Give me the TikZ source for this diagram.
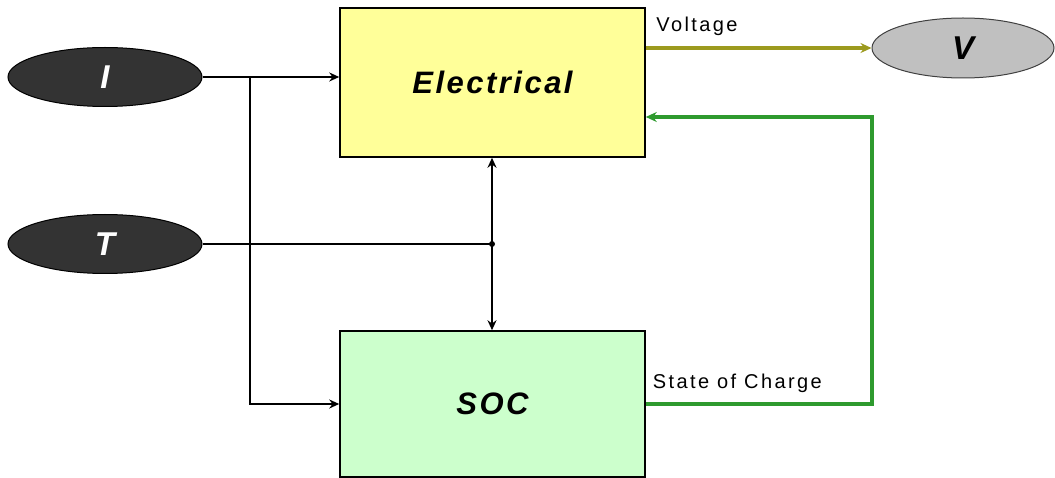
\documentclass[tikz,border=0pt]{standalone}
\usepackage{fontspec}
\setmainfont{Liberation Sans}
\usepackage{xcolor}
\usepackage{tikz}
\usetikzlibrary{arrows.meta, positioning, calc, shapes}

\definecolor{gialloblocco}{HTML}{FFFF99}
\definecolor{verdeblocco}{HTML}{CCFFCC}
\definecolor{scuro}{HTML}{333333}
\definecolor{grigio}{HTML}{C0C0C0}
\definecolor{oliva}{HTML}{9C9A1E}
\definecolor{verdelinea}{HTML}{2E9A2E}

\begin{document}
\begin{tikzpicture}[x=1pt, y=-1pt,
    ingresso/.style={ellipse, draw=black, line width=1pt, fill=scuro, text=white,
        minimum width=194pt, minimum height=59pt, inner sep=0pt,
        font=\fontsize{33}{36}\selectfont\bfseries\itshape},
    uscita/.style={ellipse, draw=black!75, line width=1pt, fill=grigio, text=black,
        minimum width=182pt, minimum height=60pt, inner sep=0pt,
        font=\fontsize{33}{36}\selectfont\bfseries\itshape},
    blocco/.style={draw=black, line width=1.5pt, minimum width=305pt, inner sep=0pt,
        font=\fontsize{31}{34}\selectfont\bfseries\itshape\addfontfeature{LetterSpace=8}},
    etichetta/.style={anchor=base west, inner sep=0pt,
        font=\fontsize{20}{22}\selectfont\addfontfeature{LetterSpace=12}},
    linea/.style={line width=2.4pt, black},
    freccia/.style={linea, -{Stealth[length=10pt, width=9pt]}},
    doppia/.style={linea, {Stealth[length=10pt, width=9pt]}-{Stealth[length=10pt, width=9pt]}},
    colorata/.style={line width=3.4pt, -{Stealth[length=11pt, width=10pt]}}]

    \useasboundingbox (0,0) rectangle (1055,478);

    % Blocchi
    \node[blocco, fill=gialloblocco, minimum height=149pt] (el) at (492.5,82.5) {Electrical};
    \node[blocco, fill=verdeblocco, minimum height=146pt] (soc) at (492.5,404) {SOC};

    % Ingressi e uscita
    \node[ingresso] (I) at (105,77) {I};
    \node[ingresso] (T) at (105,244) {T};
    \node[uscita] (V) at (963,48) {V};

    % Punti di diramazione
    \coordinate (ramoI) at (250,77);
    \coordinate (nodoT) at (492,244);
    \coordinate (giro) at (872,117);

    % Corrente verso i due blocchi
    \draw[freccia] (I.east) -- (el.west |- I);
    \draw[freccia] (ramoI) |- (soc.west);

    % Temperatura e scambio tra i blocchi
    \draw[linea] (T.east) -- (nodoT);
    \fill (nodoT) circle (3pt);
    \draw[doppia] (el.south -| nodoT) -- (soc.north -| nodoT);

    % Tensione in uscita
    \draw[colorata, oliva] (el.east |- V) -- (V.west)
        node[etichetta, text=black, pos=0, xshift=9pt, yshift=16pt] {Voltage};

    % Stato di carica riportato indietro
    \draw[colorata, verdelinea] (soc.east) -| (giro) -- (el.east |- giro);
    \node[etichetta] (lsoc) at ($(soc.east)+(7,-16)$) {State of Charge};

\end{tikzpicture}
\end{document}
